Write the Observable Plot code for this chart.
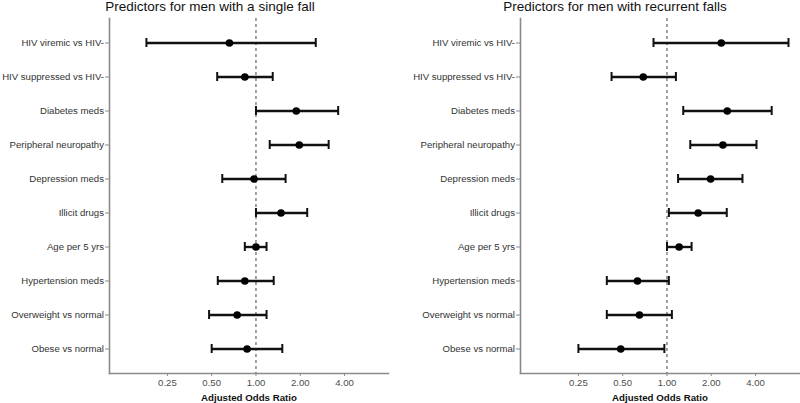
<!DOCTYPE html>
<html>
<head>
<meta charset="utf-8">
<script src="https://cdn.jsdelivr.net/npm/d3@7"></script>
<script src="https://cdn.jsdelivr.net/npm/@observablehq/plot@0.6"></script>
<style>
  html, body { margin: 0; padding: 0; background: #fff; }
  #wrap { position: relative; width: 800px; height: 403px; overflow: hidden; font-family: "Liberation Sans", Arial, sans-serif; }
  .panel { position: absolute; top: 0; width: 400px; height: 403px; }
  .title { position: absolute; top: 0px; font-size: 13.5px; line-height: 13.5px; color: #111; white-space: nowrap; transform: translateX(-50%); }
</style>
</head>
<body>
<div id="wrap">
  <div class="panel" id="left" style="left:0"></div>
  <div class="panel" id="right" style="left:400px"></div>
  <div class="title" style="left:210px">Predictors for men with a single fall</div>
  <div class="title" style="left:615px">Predictors for men with recurrent falls</div>
</div>
<script>
const categories = [
  "HIV viremic vs HIV-",
  "HIV suppressed vs HIV-",
  "Diabetes meds",
  "Peripheral neuropathy",
  "Depression meds",
  "Illicit drugs",
  "Age per 5 yrs",
  "Hypertension meds",
  "Overweight vs normal",
  "Obese vs normal"
];
const singleOR = [0.66, 0.84, 1.88, 1.97, 0.97, 1.48, 1.00, 0.84, 0.745, 0.87];
const singleLo = [0.18, 0.545, 1.00, 1.24, 0.59, 1.00, 0.84, 0.55, 0.48, 0.50];
const singleHi = [2.55, 1.30, 3.62, 3.12, 1.59, 2.23, 1.18, 1.32, 1.18, 1.51];

const recurOR = [2.34, 0.69, 2.57, 2.40, 1.98, 1.63, 1.21, 0.63, 0.65, 0.485];
const recurLo = [0.81, 0.42, 1.29, 1.44, 1.19, 1.03, 1.00, 0.39, 0.39, 0.25];
const recurHi = [6.7, 1.15, 5.15, 4.06, 3.26, 2.55, 1.47, 1.03, 1.08, 0.96];

const xTicks = [0.25, 0.5, 1, 2, 4];
const xDomain = [0.101, 7.96];
const xLabel = "Adjusted Odds Ratio";

function panel(or, lo, hi, marginLeft, marginRight) {
  const data = categories.map((name, i) => ({name, or: or[i], lo: lo[i], hi: hi[i]}));
  return Plot.plot({
    width: 400,
    height: 403,
    marginLeft,
    marginRight,
    marginTop: 18,
    marginBottom: 30,
    style: {fontFamily: "'Liberation Sans', Arial, sans-serif", fontSize: "9.6px", background: "transparent", overflow: "visible"},
    x: {type: "log", domain: xDomain, label: null},
    y: {type: "band", domain: categories, paddingInner: 0.5, paddingOuter: 0.42, label: null},
    marks: [
      Plot.frame({anchor: "left", stroke: "#8a8a8a", strokeWidth: 1.6}),
      Plot.frame({anchor: "bottom", stroke: "#8a8a8a", strokeWidth: 1.6}),
      Plot.axisY({tickSize: 4, tickPadding: 1.5, stroke: "#8a8a8a", fill: "#333", label: null}),
      Plot.axisX({ticks: xTicks, tickFormat: d => d.toFixed(2), tickSize: 3, tickPadding: 3, stroke: "#8a8a8a", fill: "#4d4d4d", label: null}),
      Plot.ruleX([1], {stroke: "#444", strokeWidth: 1, strokeDasharray: "3,3"}),
      Plot.link(data, {x1: "lo", x2: "hi", y1: "name", y2: "name", stroke: "#111", strokeWidth: 2.4}),
      Plot.tickX(data, {x: "lo", y: "name", stroke: "#111", strokeWidth: 2, insetTop: 4, insetBottom: 4}),
      Plot.tickX(data, {x: "hi", y: "name", stroke: "#111", strokeWidth: 2, insetTop: 4, insetBottom: 4}),
      Plot.dot(data, {x: "or", y: "name", r: 3.8, fill: "#000", stroke: null}),
      Plot.text([xLabel], {frameAnchor: "bottom", dy: 24, lineAnchor: "middle", fontWeight: "bold", fill: "#111", fontSize: 9.7})
    ]
  });
}

document.getElementById("left").append(panel(singleOR, singleLo, singleHi, 109, 12));
document.getElementById("right").append(panel(recurOR, recurLo, recurHi, 120, 1));
</script>
</body>
</html>
